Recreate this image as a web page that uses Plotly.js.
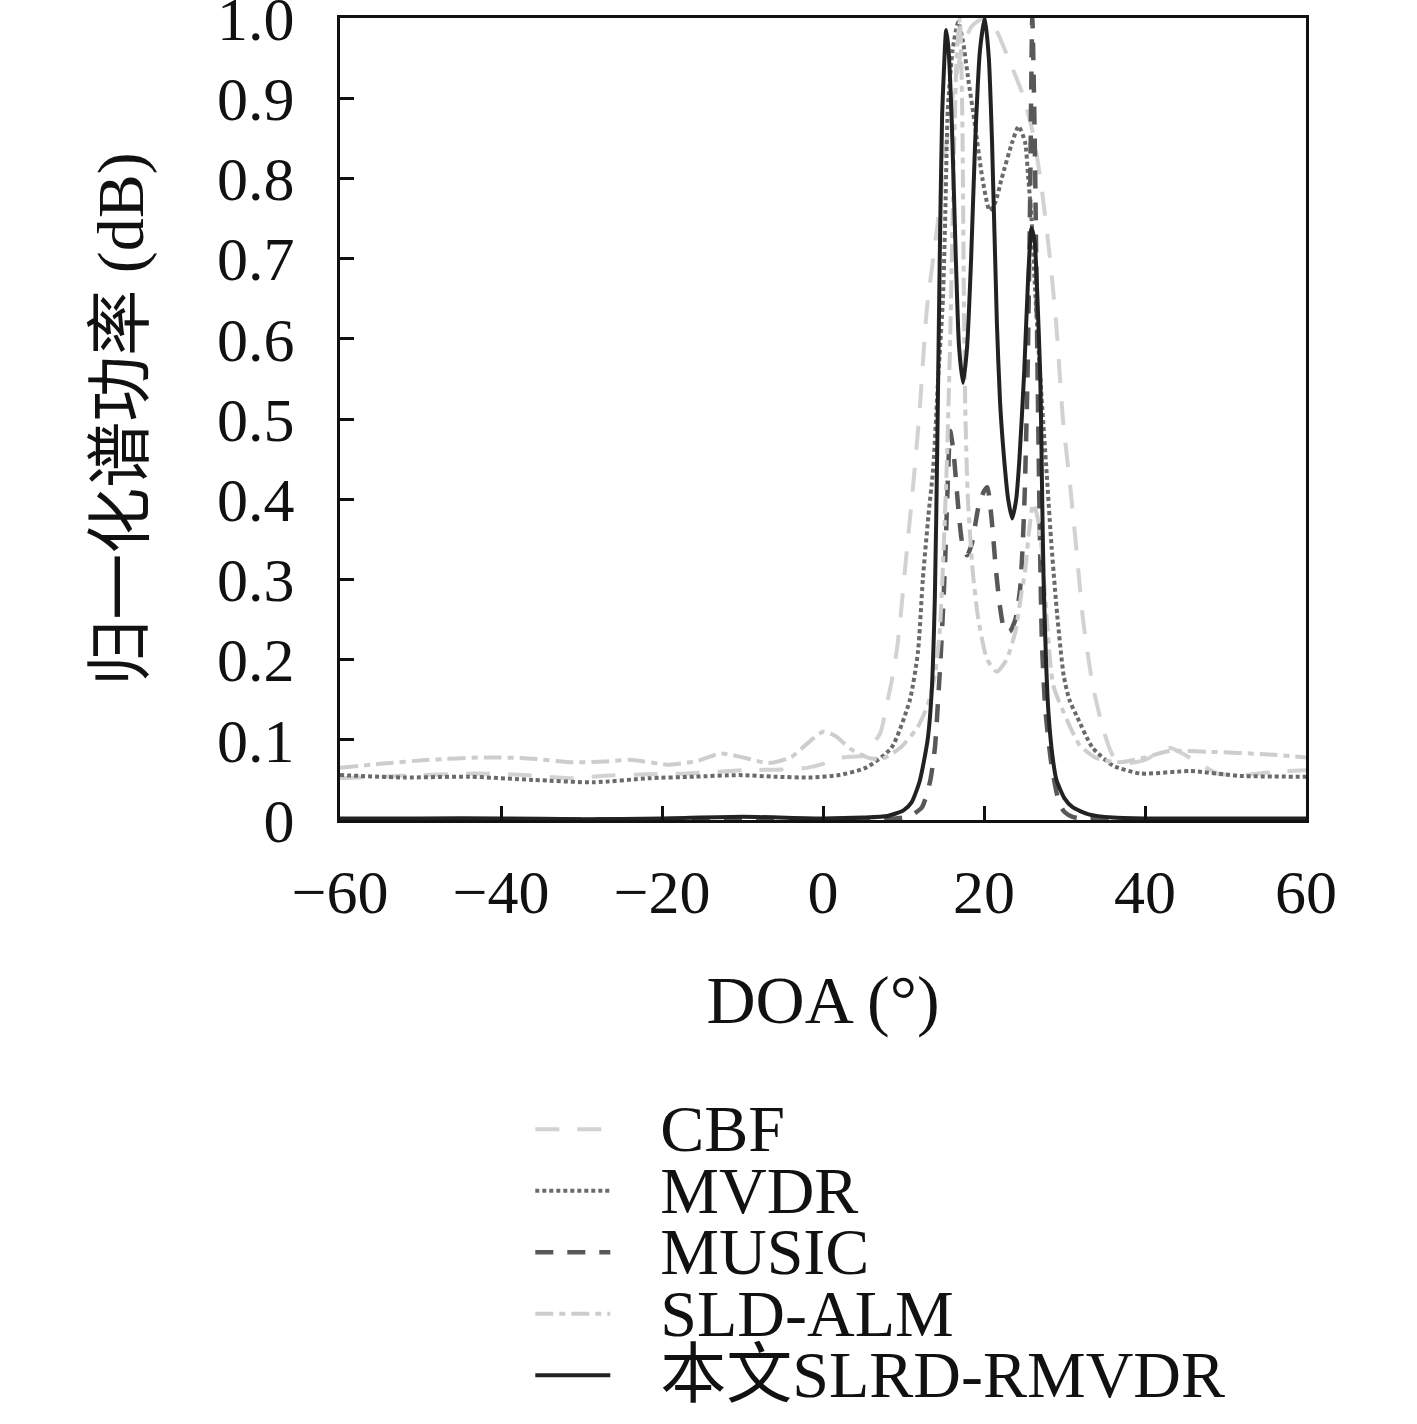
<!DOCTYPE html>
<html>
<head>
<meta charset="utf-8">
<script src="https://cdn.plot.ly/plotly-3.0.1.min.js"></script>
<style>
  html, body { margin: 0; padding: 0; background: #fff; }
  #chart { width: 1417px; height: 1424px; }
</style>
</head>
<body>
<div id="chart"></div>
<script>
// values (DOA in degrees, normalised power)
const cbfX = [-60, -55, -50, -43, -37, -31, -27.5, -22, -17, -10, -5, -2, 0, 1.7, 3.6, 5, 5.8, 7.1, 7.9, 8.6, 9.2, 9.6, 10.4, 11.2, 12.0, 12.9, 14.2, 15.3, 16.4, 17.4, 18.5, 20, 21.5, 23, 24.8, 26, 27, 28.2, 29, 29.8, 30.7, 31.5, 32.3, 33.5, 34.8, 36, 37.8, 40, 43, 46, 49, 52, 56, 60];
const cbfY = [0.052, 0.054, 0.056, 0.058, 0.056, 0.052, 0.055, 0.057, 0.058, 0.062, 0.063, 0.065, 0.070, 0.077, 0.079, 0.080, 0.090, 0.108, 0.143, 0.177, 0.214, 0.250, 0.335, 0.417, 0.510, 0.637, 0.740, 0.840, 0.920, 0.965, 0.990, 1.000, 0.985, 0.950, 0.905, 0.860, 0.800, 0.700, 0.615, 0.500, 0.417, 0.335, 0.250, 0.168, 0.114, 0.081, 0.071, 0.075, 0.090, 0.075, 0.058, 0.056, 0.060, 0.062];

const mvdrX = [-60, -52, -44, -36, -28.5, -21.7, -16, -10.4, -6, -1.4, 2, 5.3, 8.5, 10.8, 11.8, 12.4, 13.1, 13.7, 14.3, 14.9, 15.2, 15.5, 16.1, 16.8, 17.4, 18, 18.9, 19.8, 20.7, 21.4, 22.2, 23.5, 24.3, 25.1, 25.5, 25.9, 26.3, 27, 27.8, 28.4, 29.1, 29.9, 30.6, 31.5, 33.5, 36, 39.4, 45.6, 51.8, 60];
const mvdrY = [0.056, 0.053, 0.054, 0.050, 0.047, 0.052, 0.054, 0.056, 0.054, 0.053, 0.056, 0.065, 0.090, 0.150, 0.210, 0.300, 0.380, 0.440, 0.550, 0.650, 0.760, 0.885, 0.960, 0.995, 0.970, 0.927, 0.865, 0.800, 0.760, 0.770, 0.800, 0.845, 0.865, 0.845, 0.800, 0.750, 0.670, 0.550, 0.430, 0.340, 0.255, 0.180, 0.150, 0.130, 0.090, 0.068, 0.058, 0.061, 0.055, 0.054];

const musicX = [-60, -40, -20, 0, 8, 10, 11, 12.3, 13.3, 13.9, 14.3, 14.6, 14.9, 15.2, 15.5, 15.8, 16.2, 16.8, 17.3, 17.9, 18.5, 19.3, 20.0, 20.4, 20.9, 21.5, 22.0, 22.6, 23.2, 23.9, 24.5, 25.0, 25.4, 25.7, 26.0, 26.3, 26.6, 26.9, 27.2, 27.6, 28.0, 28.4, 29.0, 29.4, 30, 31, 33, 40, 60];
const musicY = [0.0005, 0.0005, 0.0005, 0.0005, 0.001, 0.003, 0.006, 0.016, 0.048, 0.090, 0.150, 0.200, 0.260, 0.330, 0.420, 0.485, 0.460, 0.390, 0.345, 0.330, 0.345, 0.390, 0.410, 0.415, 0.380, 0.310, 0.265, 0.235, 0.235, 0.250, 0.290, 0.390, 0.550, 0.750, 1.000, 0.850, 0.600, 0.380, 0.220, 0.140, 0.100, 0.068, 0.035, 0.020, 0.010, 0.004, 0.001, 0.0005, 0.0005];

const sldX = [-60, -55, -49, -42, -37, -31, -27, -24, -19, -15.5, -12.7, -9.5, -6.8, -4, -2, 0, 1.5, 3.5, 5.8, 7.5, 9.6, 11.7, 13.0, 13.9, 14.5, 14.9, 15.4, 15.8, 16.2, 16.6, 17.0, 17.3, 17.5, 17.7, 18.0, 18.6, 19.3, 20.4, 21.6, 22.8, 23.9, 24.6, 25.1, 25.6, 26.1, 26.6, 27.2, 27.8, 28.6, 30.3, 31.9, 34, 36.9, 40, 43, 48, 55, 60];
const sldY = [0.065, 0.070, 0.075, 0.078, 0.077, 0.072, 0.073, 0.075, 0.069, 0.074, 0.083, 0.077, 0.071, 0.078, 0.095, 0.110, 0.105, 0.088, 0.077, 0.077, 0.090, 0.115, 0.143, 0.180, 0.235, 0.317, 0.450, 0.600, 0.800, 0.950, 1.000, 0.880, 0.650, 0.500, 0.400, 0.310, 0.250, 0.200, 0.185, 0.200, 0.235, 0.280, 0.310, 0.360, 0.394, 0.380, 0.335, 0.250, 0.168, 0.125, 0.093, 0.077, 0.072, 0.078, 0.086, 0.085, 0.082, 0.078];

const oursX = [-60, -50, -40, -30, -20, -10, 0, 5, 8, 10, 11, 12, 13.0, 13.5, 13.9, 14.2, 14.5, 14.8, 15.0, 15.3, 15.6, 16.0, 16.5, 16.9, 17.4, 17.9, 18.4, 18.9, 19.5, 20.1, 20.6, 21.0, 21.6, 22.0, 22.5, 23.0, 23.5, 24.0, 24.4, 25.0, 25.5, 25.9, 26.3, 26.6, 27.0, 27.2, 27.4, 27.7, 28.0, 28.5, 29, 30, 31, 33, 36, 40, 50, 60];
const oursY = [0.002, 0.002, 0.002, 0.001, 0.002, 0.004, 0.002, 0.003, 0.005, 0.012, 0.022, 0.048, 0.100, 0.160, 0.280, 0.470, 0.700, 0.880, 0.930, 0.985, 0.960, 0.870, 0.700, 0.590, 0.545, 0.590, 0.700, 0.845, 0.960, 1.000, 0.950, 0.845, 0.620, 0.520, 0.450, 0.400, 0.376, 0.400, 0.450, 0.560, 0.680, 0.738, 0.720, 0.660, 0.550, 0.420, 0.300, 0.200, 0.135, 0.080, 0.050, 0.027, 0.016, 0.007, 0.003, 0.002, 0.002, 0.002];

const xTickVals = [-60, -40, -20, 0, 20, 40, 60];
const xTickText = ['\u221260', '\u221240', '\u221220', '0', '20', '40', '60'];
const yTickVals = [0, 0.1, 0.2, 0.3, 0.4, 0.5, 0.6, 0.7, 0.8, 0.9, 1.0];
const yTickText = ['0', '0.1', '0.2', '0.3', '0.4', '0.5', '0.6', '0.7', '0.8', '0.9', '1.0'];

const serif = '"Liberation Serif", "Noto Sans CJK SC", serif';
const ink = '#111111';

function series (name, x, y, color, dash, width) {
  return {
    type: 'scatter',
    mode: 'lines',
    name: name,
    x: x,
    y: y,
    line: { color: color, dash: dash, width: width, shape: 'spline', smoothing: 0.6 },
    hoverinfo: 'skip'
  };
}

const data = [
  series('CBF', cbfX, cbfY, '#d2d2d2', '24px,18px', 4),
  series('MVDR', mvdrX, mvdrY, '#6a6a6a', '4px,3px', 4),
  series('MUSIC', musicX, musicY, '#585858', '18px,14px', 4.5),
  series('SLD-ALM', sldX, sldY, '#cdcdcd', '18px,6px,6px,6px', 4),
  series('本文SLRD-RMVDR', oursX, oursY, '#222222', 'solid', 4)
];

const axisBase = {
  showline: true,
  linewidth: 3,
  linecolor: ink,
  mirror: true,
  showgrid: false,
  zeroline: false,
  ticks: 'inside',
  ticklen: 14,
  tickwidth: 3,
  tickcolor: ink,
  ticklabeloverflow: 'allow',
  tickfont: { family: serif, size: 62, color: ink },
  automargin: false
};

const layout = {
  width: 1417,
  height: 1424,
  margin: { l: 340, r: 111, t: 18, b: 602 },
  paper_bgcolor: '#ffffff',
  plot_bgcolor: '#ffffff',
  showlegend: true,
  xaxis: Object.assign({}, axisBase, {
    range: [-60, 60],
    tickmode: 'array',
    tickvals: xTickVals,
    ticktext: xTickText,
    ticklabelstandoff: 16,
    title: { text: 'DOA (°)', font: { family: serif, size: 68, color: ink }, standoff: 50 }
  }),
  yaxis: Object.assign({}, axisBase, {
    range: [0, 1],
    tickmode: 'array',
    tickvals: yTickVals,
    ticktext: yTickText,
    ticklabelstandoff: 30,
    title: { text: '归一化谱功率 (dB)', font: { family: serif, size: 66, color: ink }, standoff: 52 }
  }),
  legend: {
    x: 0.197,
    y: -0.341,
    xanchor: 'left',
    yanchor: 'top',
    bgcolor: 'rgba(0,0,0,0)',
    borderwidth: 0,
    itemwidth: 75,
    font: { family: serif, size: 45, color: ink }
  }
};

Plotly.newPlot('chart', data, layout, { displayModeBar: false, staticPlot: true }).then(function () {
  // rows sit tighter than plotly's row height for this text size, so enlarge the text afterwards
  const legendEl = document.querySelector('.legend');
  legendEl.querySelectorAll('[clip-path]').forEach(function (n) { n.removeAttribute('clip-path'); });
  legendEl.querySelectorAll('.legendtext').forEach(function (t) {
    t.style.fontSize = '66px';
    t.setAttribute('x', '130');
    t.setAttribute('y', '22');
  });
});
</script>
</body>
</html>
